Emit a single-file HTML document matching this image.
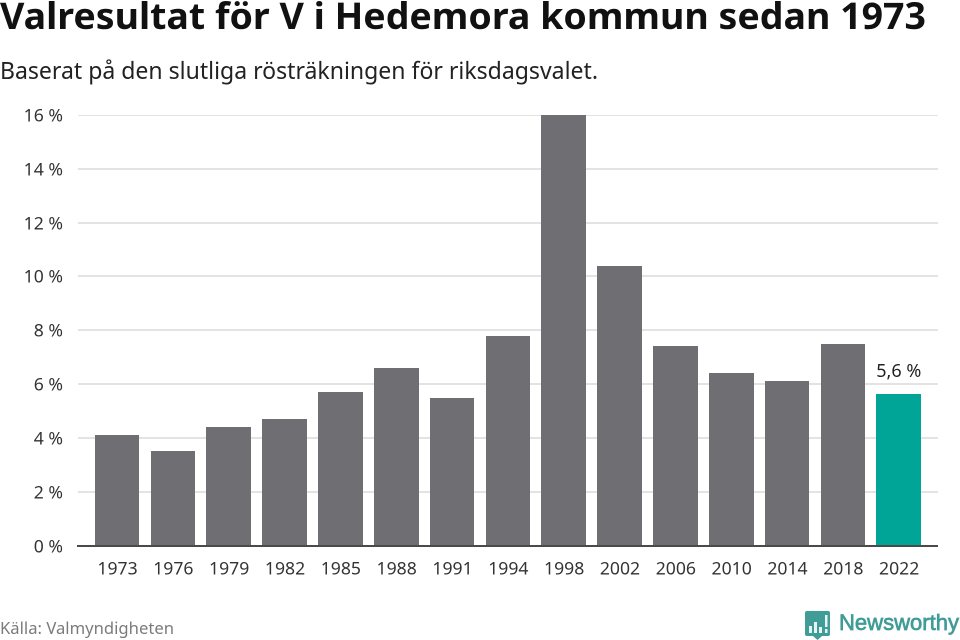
<!DOCTYPE html>
<html lang="sv">
<head>
<meta charset="utf-8">
<title>Valresultat för V i Hedemora kommun sedan 1973</title>
<style>
html,body{margin:0;padding:0;background:#fff;width:960px;height:640px;overflow:hidden}
svg{display:block}
text{font-family:"Noto Sans","DejaVu Sans","Liberation Sans",sans-serif}
</style>
</head>
<body>
<svg id="chart" xmlns="http://www.w3.org/2000/svg" width="960" height="640" viewBox="0 0 960 640">
<text x="0" y="29" font-size="36.5" font-weight="700" fill="#111" textLength="926" lengthAdjust="spacingAndGlyphs">Valresultat för V i Hedemora kommun sedan 1973</text>
<text x="0" y="79" font-size="23.5" fill="#222" textLength="598" lengthAdjust="spacingAndGlyphs">Baserat på den slutliga rösträkningen för riksdagsvalet.</text>
<g id="grid"></g>
<g id="bars"></g>
<g id="xlabels"></g>
<rect x="77" y="545" width="861" height="2" fill="#4a4a4a"/>
<text x="0" y="634" font-size="16" fill="#7b7b7b" textLength="174" lengthAdjust="spacingAndGlyphs">Källa: Valmyndigheten</text>
<g>
<path d="M807 611h21a2 2 0 0 1 2 2v21a2 2 0 0 1-2 2h-6l-4.500 4-4.500-4h-6a2 2 0 0 1-2-2v-21a2 2 0 0 1 2-2z" fill="#409c96"/>
<rect x="809" y="626" width="3" height="7" fill="#e8f4f3"/>
<rect x="814" y="622" width="3" height="11" fill="#e8f4f3"/>
<rect x="819" y="627" width="3" height="6" fill="#e8f4f3"/>
<rect x="825" y="615" width="2.500" height="12" fill="#e8f4f3"/>
<rect x="825" y="629" width="2.500" height="4" fill="#e8f4f3"/>
<text x="839" y="630" font-size="22" fill="#409c96" stroke="#409c96" stroke-width="0.7" style="font-family:'Liberation Sans',sans-serif" textLength="120" lengthAdjust="spacingAndGlyphs">Newsworthy</text>
</g>
</svg>
<script>
const categories = ["1973","1976","1979","1982","1985","1988","1991","1994","1998","2002","2006","2010","2014","2018","2022"];
const voteShare = [4.1,3.5,4.4,4.7,5.7,6.6,5.5,7.8,16,10.4,7.4,6.4,6.1,7.5,5.64];
const yTicks = [0,2,4,6,8,10,12,14,16];
const highlightedLabel = "5,6 %";

const NS = "http://www.w3.org/2000/svg";
const plotLeft = 89.22, plotRight = 926.67, yBase = 545.5, yTop = 115, yMax = 16;
function yScale(v){ return yBase - (v / yMax) * (yBase - yTop); }
const step = (plotRight - plotLeft) / categories.length;
function xBand(i){ return plotLeft + i * step; }
const barWidth = step * 0.8;

const grid = document.getElementById("grid");
yTicks.forEach(function(t){
  const yPos = Math.round(yScale(t));
  if (t !== 0) {
    const line = document.createElementNS(NS, "rect");
    
    
    const top = Math.max(yPos - 1, yTop);
    line.setAttribute("x", 78);
    line.setAttribute("y", top);
    line.setAttribute("width", 860);
    line.setAttribute("height", yPos + 1 - top);
    line.setAttribute("fill", "#e3e3e3");
    grid.appendChild(line);
  }
  const label = document.createElementNS(NS, "text");
  
  
  label.setAttribute("x", 63);
  label.setAttribute("y", yPos + 6.5);
  label.setAttribute("text-anchor", "end");
  label.setAttribute("font-size", "17.6");
  label.setAttribute("fill", "#333");
  label.textContent = t + " %";
  grid.appendChild(label);
});

const bars = document.getElementById("bars");
const xlabels = document.getElementById("xlabels");
voteShare.forEach(function(v, i){
  const isLast = i === voteShare.length - 1;
  const x = xBand(i) + (step - barWidth) / 2;
  const left = Math.round(x), right = Math.round(x + barWidth), top = Math.round(yScale(v));
  const rect = document.createElementNS(NS, "rect");
  
  
  rect.setAttribute("x", left);
  rect.setAttribute("y", top);
  rect.setAttribute("width", right - left);
  rect.setAttribute("height", 545 - top);
  rect.setAttribute("fill", isLast ? "#00a598" : "#6f6e73");
  bars.appendChild(rect);

  const label = document.createElementNS(NS, "text");
  
  
  label.setAttribute("x", x + barWidth / 2 + 0.4);
  label.setAttribute("y", 574.5);
  label.setAttribute("text-anchor", "middle");
  label.setAttribute("font-size", "17.6");
  label.setAttribute("fill", "#333");
  label.textContent = categories[i];
  xlabels.appendChild(label);

  if (isLast) {
    const val = document.createElementNS(NS, "text");
    
    
    val.setAttribute("x", x + barWidth / 2);
    val.setAttribute("y", top - 17);
    val.setAttribute("text-anchor", "middle");
    val.setAttribute("font-size", "18");
    val.setAttribute("fill", "#222");
    val.textContent = highlightedLabel;
    bars.appendChild(val);
  }
});
</script>
</body>
</html>
